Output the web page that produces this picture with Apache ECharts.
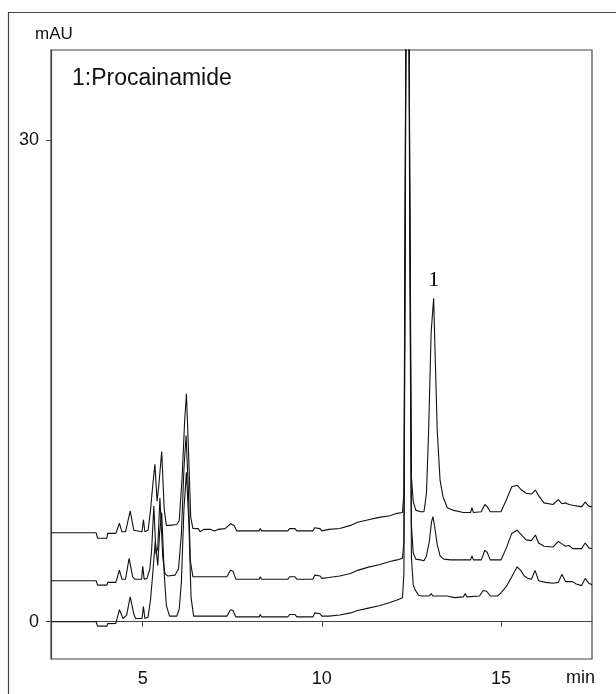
<!DOCTYPE html>
<html>
<head>
<meta charset="utf-8">
<script src="https://cdn.jsdelivr.net/npm/echarts@6/dist/echarts.min.js"></script>
<style>html,body{margin:0;padding:0;background:#fff}#c{width:616px;height:694px}</style>
</head>
<body>
<div id="c"></div>
<script>
// x ticks (min) and y ticks (mAU)
const xTicks = [5, 10, 15];
const yTicks = [0, 30];
const peakLabel = { name: '1', t: 13.12, v: 20.14 };

// Bottom trace
const bottomT = [2.44,3.70,3.74,4.00,4.02,4.25,4.35,4.45,4.55,4.65,4.75,4.80,4.98,5.02,5.06,5.15,5.22,5.28,5.35,5.42,5.47,5.53,5.60,5.66,5.75,5.95,6.02,6.08,6.15,6.22,6.29,6.35,6.42,7.35,7.45,7.52,7.60,8.25,8.28,8.32,9.05,9.10,9.25,9.30,9.75,9.80,9.95,10.00,10.20,10.50,10.80,11.00,11.30,11.60,11.90,12.10,12.25,12.29,12.33,12.36,12.42,12.45,12.50,12.55,12.60,12.70,12.80,13.00,13.05,13.10,13.50,13.70,13.75,13.95,14.00,14.05,14.40,14.50,14.60,14.70,14.90,15.00,15.15,15.30,15.45,15.55,15.65,15.75,15.85,15.95,16.05,16.25,16.45,16.60,16.70,16.80,17.00,17.10,17.25,17.35,17.45,17.54];
const bottomV = [0,0,-0.27,-0.27,-0.12,-0.1,0.75,0.2,0.4,1.55,0.5,0.2,0.2,0.95,0.2,0.3,1.4,3.0,5.0,3.5,5.5,6.8,3.0,1.0,0.35,0.35,0.8,2.5,7.0,9.3,6.0,1.5,0.35,0.35,0.75,0.7,0.3,0.3,0.45,0.3,0.3,0.45,0.45,0.3,0.3,0.55,0.5,0.35,0.35,0.42,0.55,0.7,0.85,1.0,1.2,1.35,1.5,3.0,25,45,45,25,4.0,2.3,2.0,1.65,1.6,1.6,1.75,1.6,1.6,1.5,1.6,1.55,1.75,1.55,1.6,1.95,1.9,1.6,1.6,1.8,2.2,2.8,3.42,3.2,2.85,2.7,2.65,3.2,2.55,2.45,2.4,2.45,2.95,2.5,2.5,2.35,2.25,2.7,2.4,2.3];

// Middle trace
const middleT = [2.44,3.70,3.74,4.00,4.02,4.25,4.35,4.42,4.52,4.62,4.72,4.78,4.97,5.00,5.04,5.12,5.20,5.25,5.31,5.37,5.42,5.48,5.56,5.62,5.70,5.90,6.00,6.08,6.15,6.21,6.27,6.33,6.40,7.35,7.45,7.52,7.60,8.25,8.28,8.32,9.05,9.10,9.25,9.30,9.75,9.80,9.95,10.00,10.20,10.50,10.80,11.00,11.30,11.60,11.90,12.10,12.25,12.29,12.33,12.36,12.42,12.45,12.50,12.55,12.62,12.75,12.85,12.92,13.00,13.06,13.10,13.15,13.22,13.30,13.40,13.60,13.95,14.00,14.15,14.19,14.23,14.45,14.55,14.62,14.70,15.00,15.15,15.30,15.45,15.55,15.70,15.85,15.96,16.05,16.20,16.45,16.60,16.70,16.80,16.90,17.00,17.25,17.35,17.45,17.54];
const middleV = [2.55,2.55,2.28,2.28,2.45,2.45,3.22,2.65,2.65,3.95,2.8,2.65,2.65,3.45,2.65,2.7,3.3,4.5,7.2,4.2,4.6,7.7,4.0,3.0,2.85,2.9,3.3,5.5,9.5,11.6,8.5,3.8,2.8,2.8,3.2,3.15,2.65,2.65,2.8,2.65,2.65,2.8,2.8,2.65,2.65,2.9,2.85,2.7,2.75,2.85,3.0,3.2,3.4,3.55,3.75,3.85,3.95,5,28,45,45,28,6,4.3,3.9,3.85,3.8,4.1,5.0,6.2,6.54,5.9,4.8,4.1,3.9,3.85,3.85,3.75,3.85,4.1,3.85,3.85,4.45,4.3,3.85,3.85,4.6,5.5,5.7,5.45,5.1,5.05,5.4,4.9,4.7,4.65,5.0,4.85,4.7,4.75,4.55,4.55,4.9,4.6,4.55];

// Top trace
const topT = [2.44,3.70,3.74,4.00,4.02,4.25,4.35,4.42,4.52,4.65,4.75,4.80,4.98,5.02,5.06,5.15,5.22,5.28,5.34,5.40,5.45,5.53,5.60,5.66,5.75,5.95,6.02,6.10,6.17,6.22,6.28,6.34,6.40,6.55,6.60,6.70,6.90,7.00,7.10,7.30,7.45,7.55,7.62,8.25,8.28,8.32,9.05,9.10,9.25,9.30,9.75,9.80,9.95,10.00,10.20,10.50,10.80,11.00,11.30,11.60,11.90,12.10,12.25,12.29,12.33,12.36,12.42,12.45,12.50,12.55,12.62,12.75,12.85,12.92,12.98,13.05,13.12,13.17,13.22,13.30,13.38,13.50,13.65,13.95,14.15,14.19,14.23,14.45,14.55,14.62,14.70,15.00,15.15,15.30,15.45,15.55,15.70,15.85,15.96,16.05,16.20,16.45,16.60,16.70,16.80,16.90,17.00,17.25,17.35,17.45,17.54];
const topV = [5.54,5.54,5.2,5.2,5.5,5.5,6.13,5.6,5.6,6.9,5.7,5.6,5.6,6.35,5.6,5.7,7.0,8.5,9.8,7.5,8.5,10.6,7.0,6.0,6.0,6.05,6.3,9.0,12.5,14.2,10.5,6.5,5.81,5.8,5.6,5.75,5.75,5.65,5.75,5.8,6.1,6.0,5.66,5.66,5.8,5.66,5.66,5.8,5.8,5.66,5.66,5.85,5.8,5.66,5.75,5.81,6.0,6.2,6.35,6.5,6.6,6.75,6.8,8,30,45,45,30,9,7.5,6.95,6.85,6.85,8.0,11.9,18.0,20.14,16,11.9,8.8,7.8,7.1,6.95,6.8,6.8,7.1,6.8,6.85,7.3,7.15,6.85,6.85,7.6,8.4,8.5,8.25,8.0,7.95,8.2,7.85,7.4,7.3,7.6,7.35,7.4,7.3,7.25,7.15,7.45,7.2,7.15];

const zip = (t, v) => t.map((x, i) => [x, v[i]]);
const chart = echarts.init(document.getElementById('c'), null, { renderer: 'canvas' });
const lineColor = '#111';
const mkSeries = (name, t, v) => ({
  name, type: 'line', data: zip(t, v), showSymbol: false, symbol: 'none',
  lineStyle: { color: lineColor, width: 1.1 }, clip: true, animation: false, z: 3
});
const topSeries = mkSeries('top', topT, topV);
topSeries.markPoint = {
  symbol: 'circle', symbolSize: 1, itemStyle: { color: 'rgba(0,0,0,0)' },
  label: { show: true, position: 'top', distance: 7, formatter: peakLabel.name,
    fontFamily: 'Liberation Serif', fontSize: 22, color: '#000' },
  data: [{ coord: [peakLabel.t, peakLabel.v] }]
};

chart.setOption({
  animation: false,
  backgroundColor: '#fff',
  grid: { left: 51, top: 50, width: 541, height: 609, show: true, borderColor: '#444', borderWidth: 1.2, backgroundColor: 'transparent' },
  xAxis: {
    type: 'value', min: 2.44, max: 17.54,
    axisLine: { show: true, lineStyle: { color: '#444', width: 1.2 } },
    axisTick: { show: true, customValues: xTicks, length: 5, lineStyle: { color: '#444' } },
    axisLabel: { customValues: xTicks, margin: 11, fontFamily: 'Liberation Sans', fontSize: 18, color: '#111' },
    splitLine: { show: false }
  },
  yAxis: {
    type: 'value', min: -2.32, max: 35.6,
    axisLine: { show: true, lineStyle: { color: '#444', width: 1.2 } },
    axisTick: { show: true, customValues: yTicks, length: 5, lineStyle: { color: '#444' } },
    axisLabel: { customValues: yTicks, margin: 12, fontFamily: 'Liberation Sans', fontSize: 18, color: '#111' },
    splitLine: { show: false }
  },
  graphic: [
    { type: 'rect', shape: { x: 8.5, y: 12.5, width: 640, height: 720 }, style: { fill: 'none', stroke: '#444', lineWidth: 1.2 }, z: -1, silent: true },
    { type: 'text', left: 35, top: 26, style: { text: 'mAU', fontFamily: 'Liberation Sans', fontSize: 17, fill: '#111' } },
    { type: 'text', left: 566, top: 669, style: { text: 'min', fontFamily: 'Liberation Sans', fontSize: 18, fill: '#111' } },
    { type: 'text', left: 72, top: 67, style: { text: '1:Procainamide', fontFamily: 'Liberation Sans', fontSize: 23, fill: '#111' } }
  ],
  series: [mkSeries('bottom', bottomT, bottomV), mkSeries('middle', middleT, middleV), topSeries]
});
</script>
</body>
</html>
